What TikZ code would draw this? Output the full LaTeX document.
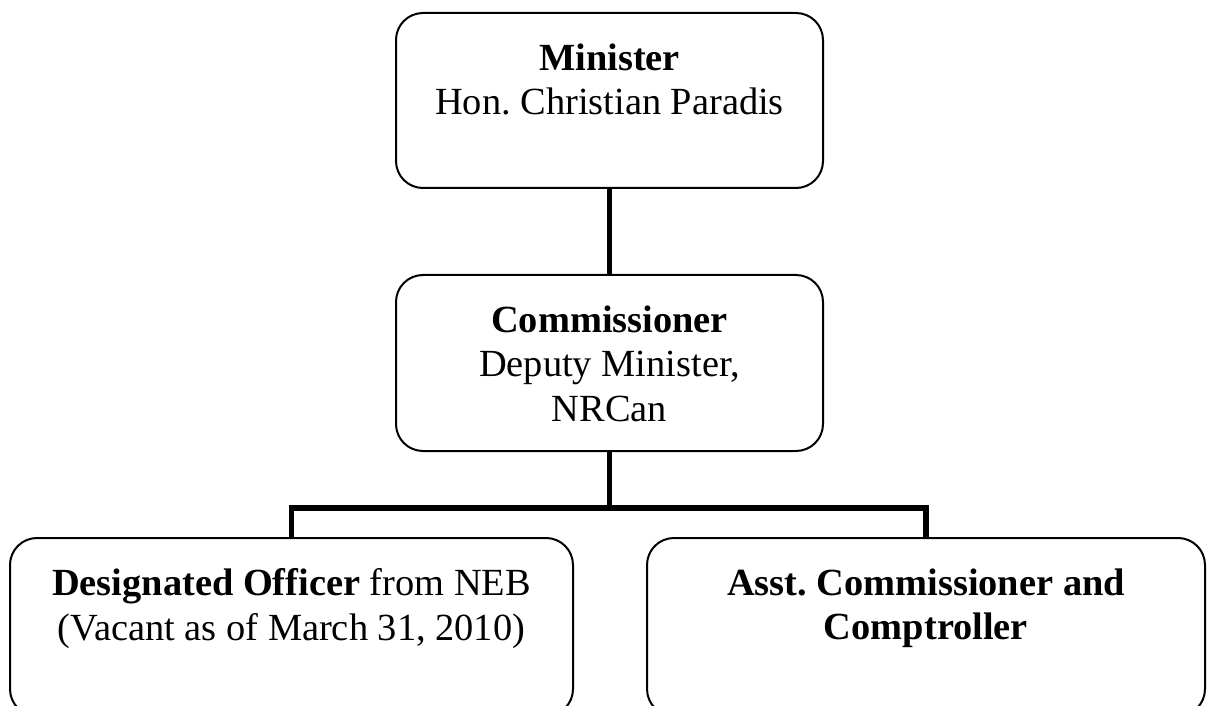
\documentclass[tikz,border=0pt]{standalone}
\usepackage{fontspec}
\setmainfont{Liberation Serif}
\usetikzlibrary{positioning}
\frenchspacing
\newcommand{\orgunit}[3][]{
  \node(#2)[
    orgbox,
    #1
  ] {};
  \node(#2 text)[
    orgtext,
    below=15.5pt of #2.north
  ] {#3};
}
\tikzset{
  orgbox/.style = {
    draw,
    rectangle,
    rounded corners=13.5pt,
    line width=1pt,
    inner sep=0pt,
  },
  orgtext/.style = {
    align=center,
    inner sep=0pt,
    font=\fontsize{19.2}{22.4}\selectfont,
  },
  reports/.style = {
    line width=2.75pt,
  },
}
\begin{document}
\begin{tikzpicture}[x=0.5pt, y=-0.5pt]
\useasboundingbox (0,0) rectangle (1207,706);
\clip (0,0) rectangle (1207,706);

\orgunit[at={(609.5,100.5)}, minimum width=213.5pt, minimum height=87.5pt]{Minister}{
  \textbf{Minister}\\
  Hon. Christian Paradis
}

\orgunit[at={(609.5,363)}, minimum width=213.5pt, minimum height=88pt]{Commissioner}{
  \textbf{Commissioner}\\
  Deputy Minister,\\
  NRCan
}

\orgunit[at={(291.5,627)}, minimum width=281.5pt, minimum height=89pt]{Officer}{
  \textbf{Designated Officer} from NEB\\
  (Vacant as of March 31, 2010)
}

\orgunit[at={(926,627)}, minimum width=279pt, minimum height=89pt]{Comptroller}{
  \textbf{Asst. Commissioner and}\\
  \textbf{Comptroller}
}

\coordinate (split) at (609.5,508);

\draw[reports] (Minister) -- (Commissioner);
\draw[reports] (Commissioner) -- (split);
\draw[reports] (Officer) |- (split) -| (Comptroller);

\end{tikzpicture}
\end{document}
